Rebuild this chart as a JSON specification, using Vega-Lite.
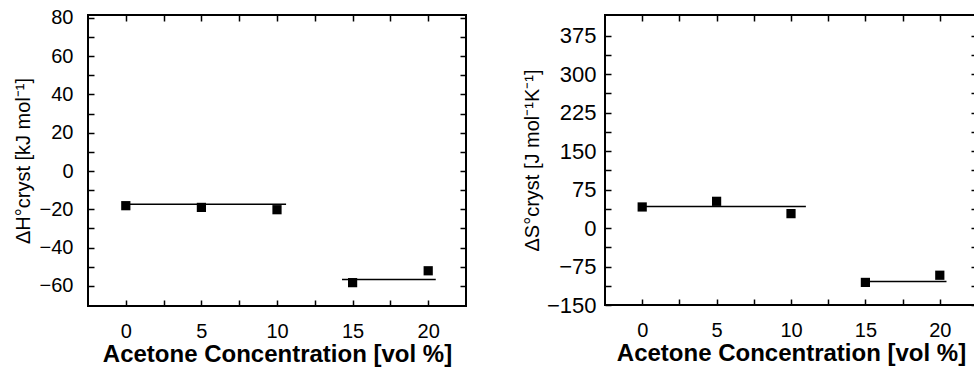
{
  "$schema": "https://vega.github.io/schema/vega-lite/v6.json",
  "padding": {"left": 12, "top": 6, "right": 0, "bottom": 0},
  "spacing": 53,
  "datasets": {
    "hPoints": [
      {"conc": 0, "dH": -18.1},
      {"conc": 5, "dH": -19},
      {"conc": 10, "dH": -20.2},
      {"conc": 15, "dH": -58.3},
      {"conc": 20, "dH": -52.1}
    ],
    "hFits": [
      {"from": -0.1, "to": 10.6, "dH": -17.4},
      {"from": 14.3, "to": 20.5, "dH": -56.6}
    ],
    "sPoints": [
      {"conc": 0, "dS": 41},
      {"conc": 5, "dS": 52},
      {"conc": 10, "dS": 28},
      {"conc": 15, "dS": -106},
      {"conc": 20, "dS": -92}
    ],
    "sFits": [
      {"from": 0, "to": 11, "dS": 42},
      {"from": 14.85, "to": 20.45, "dS": -104}
    ]
  },
  "config": {
    "view": {"stroke": "black", "strokeWidth": 2},
    "axis": {
      "labelFont": "Liberation Sans",
      "titleFont": "Liberation Sans",
      "labelColor": "black",
      "titleColor": "black",
      "tickColor": "black",
      "tickWidth": 1.5,
      "tickSize": 6,
      "offset": -6,
      "ticks": true,
      "grid": false,
      "domain": false,
      "labelOverlap": false,
      "labelFlush": false,
      "labelBound": false
    }
  },
  "hconcat": [
    {
      "width": 378,
      "height": 291,
      "layer": [
        {
          "data": {"name": "hPoints"},
          "mark": {"type": "square", "size": 85, "color": "black", "opacity": 1},
          "encoding": {
            "x": {
              "field": "conc", "type": "quantitative",
              "scale": {"domain": [-2.5, 22.5], "nice": false, "zero": false},
              "axis": {
                "orient": "bottom",
                "values": [0, 2.5, 5, 7.5, 10, 12.5, 15, 17.5, 20],
                "labelExpr": "datum.value % 5 === 0 ? datum.label : ''",
                "labelPadding": 15,
                "labelFontSize": 20,
                "title": "Acetone Concentration [vol %]",
                "titleFontSize": 24,
                "titleFontWeight": "bold",
                "titlePadding": 1
              }
            },
            "y": {
              "field": "dH", "type": "quantitative",
              "scale": {"domain": [-70.5, 81.5], "nice": false, "zero": false},
              "axis": {
                "orient": "left",
                "values": [-60, -50, -40, -30, -20, -10, 0, 10, 20, 30, 40, 50, 60, 70, 80],
                "labelExpr": "datum.value % 20 === 0 ? datum.label : ''",
                "labelPadding": 15,
                "labelFontSize": 20,
                "title": "ΔH°cryst [kJ mol⁻¹]",
                "titleFontSize": 20,
                "titleFontWeight": "normal",
                "titlePadding": 6
              }
            }
          }
        },
        {
          "data": {"name": "hFits"},
          "mark": {"type": "rule", "strokeWidth": 1.5, "color": "black"},
          "encoding": {
            "x": {
              "field": "from", "type": "quantitative",
              "scale": {"domain": [-2.5, 22.5], "nice": false, "zero": false},
              "axis": {
                "orient": "top",
                "values": [0, 2.5, 5, 7.5, 10, 12.5, 15, 17.5, 20],
                "labels": false,
                "title": null
              }
            },
            "x2": {"field": "to"},
            "y": {
              "field": "dH", "type": "quantitative",
              "scale": {"domain": [-70.5, 81.5], "nice": false, "zero": false},
              "axis": {
                "orient": "right",
                "values": [-60, -50, -40, -30, -20, -10, 0, 10, 20, 30, 40, 50, 60, 70, 80],
                "labels": false,
                "title": null
              }
            }
          }
        }
      ],
      "resolve": {"axis": {"x": "independent", "y": "independent"}}
    },
    {
      "width": 372,
      "height": 290,
      "layer": [
        {
          "data": {"name": "sPoints"},
          "mark": {"type": "square", "size": 85, "color": "black", "opacity": 1},
          "encoding": {
            "x": {
              "field": "conc", "type": "quantitative",
              "scale": {"domain": [-2.5, 22.5], "nice": false, "zero": false},
              "axis": {
                "orient": "bottom",
                "values": [0, 2.5, 5, 7.5, 10, 12.5, 15, 17.5, 20],
                "labelExpr": "datum.value % 5 === 0 ? datum.label : ''",
                "labelPadding": 15,
                "labelFontSize": 20,
                "title": "Acetone Concentration [vol %]",
                "titleFontSize": 24,
                "titleFontWeight": "bold",
                "titlePadding": 1
              }
            },
            "y": {
              "field": "dS", "type": "quantitative",
              "scale": {"domain": [-150, 415], "nice": false, "zero": false},
              "axis": {
                "orient": "left",
                "values": [-150, -112.5, -75, -37.5, 0, 37.5, 75, 112.5, 150, 187.5, 225, 262.5, 300, 337.5, 375],
                "labelExpr": "datum.value % 75 === 0 ? datum.label : ''",
                "labelPadding": 9,
                "labelFontSize": 22,
                "title": "ΔS°cryst [J mol⁻¹K⁻¹]",
                "titleFontSize": 20,
                "titleFontWeight": "normal",
                "titlePadding": 4
              }
            }
          }
        },
        {
          "data": {"name": "sFits"},
          "mark": {"type": "rule", "strokeWidth": 1.5, "color": "black"},
          "encoding": {
            "x": {
              "field": "from", "type": "quantitative",
              "scale": {"domain": [-2.5, 22.5], "nice": false, "zero": false},
              "axis": {
                "orient": "top",
                "values": [0, 2.5, 5, 7.5, 10, 12.5, 15, 17.5, 20],
                "labels": false,
                "title": null
              }
            },
            "x2": {"field": "to"},
            "y": {
              "field": "dS", "type": "quantitative",
              "scale": {"domain": [-150, 415], "nice": false, "zero": false},
              "axis": {
                "orient": "right",
                "values": [-150, -112.5, -75, -37.5, 0, 37.5, 75, 112.5, 150, 187.5, 225, 262.5, 300, 337.5, 375],
                "labels": false,
                "title": null
              }
            }
          }
        }
      ],
      "resolve": {"axis": {"x": "independent", "y": "independent"}}
    }
  ]
}
